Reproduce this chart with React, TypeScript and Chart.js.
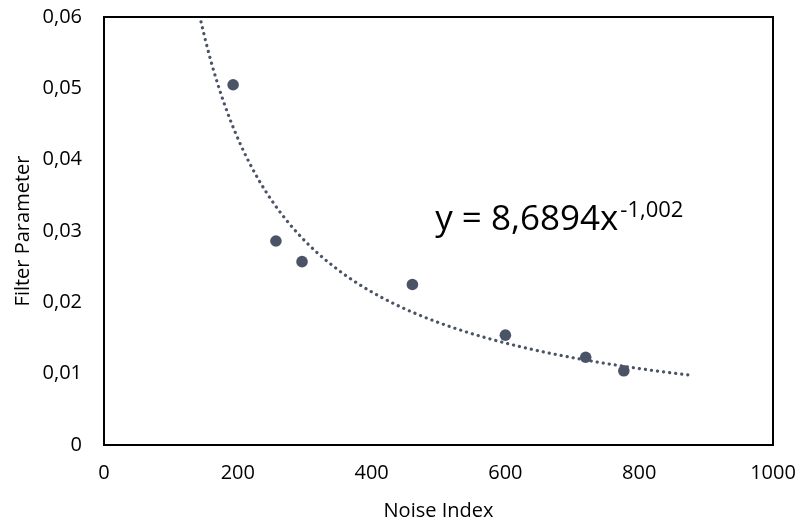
import React, { useEffect, useRef } from "react";
import { Chart, registerables } from "chart.js";

Chart.register(...registerables);

const noiseIndex = [193, 257, 296, 461, 600, 720, 777];
const filterParameter = [0.0505, 0.0286, 0.0257, 0.0225, 0.0154, 0.0123, 0.0104];
const xTicks = [0, 200, 400, 600, 800, 1000];
const yTicks = [0, 0.01, 0.02, 0.03, 0.04, 0.05, 0.06];
const trendCoefA = 8.6894;
const trendExpB = -1.002;
const trendRange = [143, 880];
const equationMain = "y = 8,6894x";
const equationSup = "-1,002";

const COLOR = "#4b5467";
const FONT = "'Open Sans', sans-serif";

function trendPoints() {
  const pts: { x: number; y: number }[] = [];
  const n = 150;
  for (let i = 0; i <= n; i++) {
    const x = trendRange[0] + ((trendRange[1] - trendRange[0]) * i) / n;
    pts.push({ x, y: trendCoefA * Math.pow(x, trendExpB) });
  }
  return pts;
}

const framePlugin = {
  id: "frame",
  afterDatasetsDraw(chart: any) {
    const { ctx, chartArea } = chart;
    ctx.save();
    ctx.strokeStyle = "#000";
    ctx.lineWidth = 2;
    ctx.strokeRect(chartArea.left, chartArea.top, chartArea.right - chartArea.left, chartArea.bottom - chartArea.top);
    const xs = chart.scales.x;
    const ys = chart.scales.y;
    const px = xs.getPixelForValue(495);
    const py = ys.getPixelForValue(0.0301);
    ctx.fillStyle = "#000";
    ctx.textBaseline = "alphabetic";
    ctx.textAlign = "left";
    ctx.font = `35px ${FONT}`;
    ctx.fillText(equationMain, px, py);
    const w = ctx.measureText(equationMain).width;
    ctx.font = `22px ${FONT}`;
    ctx.fillText(equationSup, px + w + 2, py - 13);
    ctx.restore();
  },
};

export default function App() {
  const ref = useRef<HTMLCanvasElement>(null);
  useEffect(() => {
    document.body.style.margin = "0";
    const chart = new Chart(ref.current!, {
      type: "scatter",
      data: {
        datasets: [
          {
            label: "Trend",
            data: trendPoints(),
            showLine: true,
            borderColor: COLOR,
            borderWidth: 3.2,
            borderDash: [0.1, 6],
            borderCapStyle: "round",
            pointRadius: 0,
            fill: false,
            tension: 0,
          } as any,
          {
            label: "Data",
            data: noiseIndex.map((x, i) => ({ x, y: filterParameter[i] })),
            backgroundColor: COLOR,
            borderColor: COLOR,
            pointRadius: 5.8,
            borderWidth: 0,
            showLine: false,
          },
        ],
      },
      options: {
        animation: false,
        responsive: false,
        maintainAspectRatio: false,
        layout: { padding: { top: 17, right: 25, left: 0, bottom: 0 } },
        plugins: { legend: { display: false }, tooltip: { enabled: false } },
        scales: {
          x: {
            type: "linear",
            min: 0,
            max: 1000,
            afterBuildTicks: (s: any) => { s.ticks = xTicks.map((v) => ({ value: v })); },
            afterFit: (s: any) => { s.height = 79; s.paddingLeft = 0; s.paddingRight = 0; },
            grid: { display: false, drawTicks: false },
            border: { display: false },
            ticks: { color: "#000", font: { family: FONT, size: 20 }, padding: 16, maxRotation: 0, callback: (v: any) => String(v) },
            title: { display: true, text: "Noise Index", color: "#000", font: { family: FONT, size: 20 }, padding: { top: 13, bottom: 1 } },
          },
          y: {
            type: "linear",
            min: 0,
            max: 0.06,
            afterBuildTicks: (s: any) => { s.ticks = yTicks.map((v) => ({ value: v })); },
            afterFit: (s: any) => { s.width = 104; s.paddingTop = 0; s.paddingBottom = 0; },
            grid: { display: false, drawTicks: false },
            border: { display: false },
            ticks: { color: "#000", font: { family: FONT, size: 20 }, padding: 22, callback: (v: any) => (v === 0 ? "0" : Number(v).toFixed(2).replace(".", ",")) },
            title: { display: true, text: "Filter Parameter", color: "#000", font: { family: FONT, size: 20 }, padding: { top: 11, bottom: 6 } },
          },
        },
      },
      plugins: [framePlugin],
    });
    return () => chart.destroy();
  }, []);
  return (
    <div style={{ width: 798, height: 524 }}>
      <canvas ref={ref} width={798} height={524} style={{ display: "block" }} />
    </div>
  );
}
